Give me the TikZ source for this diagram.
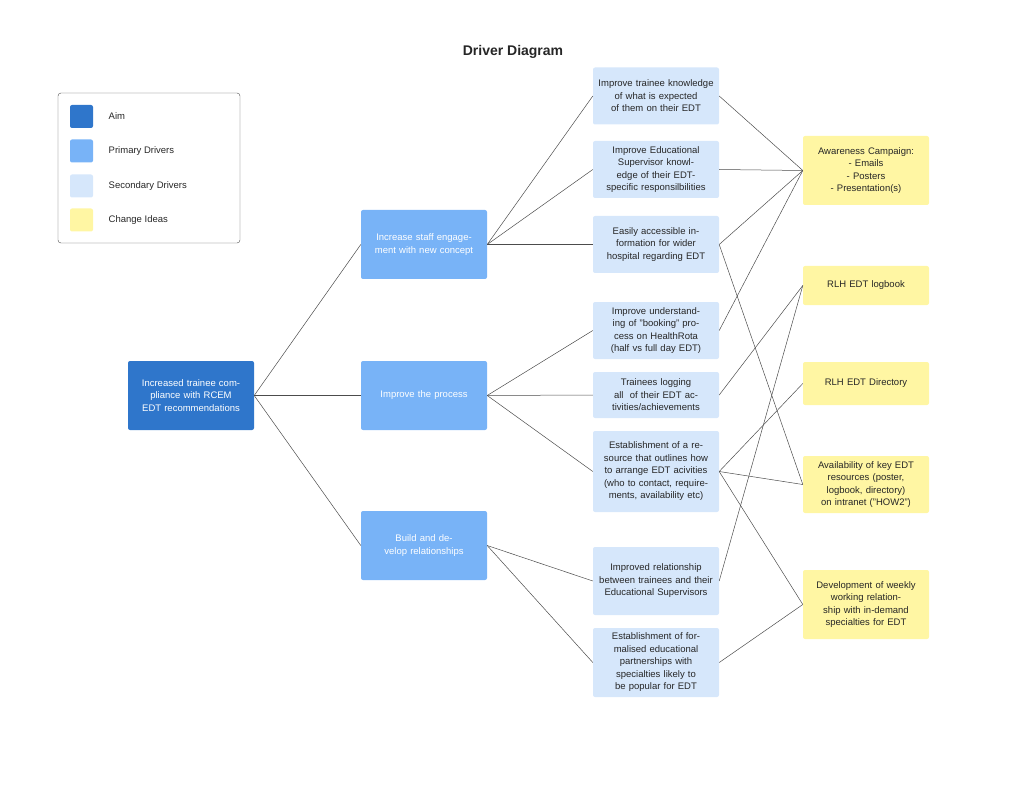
\documentclass[tikz,border=0pt]{standalone}
\usepackage{fontspec}
\setmainfont{Liberation Sans}
\usetikzlibrary{positioning}
\definecolor{aimc}{HTML}{2F76CB}
\definecolor{primc}{HTML}{78B3F7}
\definecolor{secc}{HTML}{D6E7FB}
\definecolor{chgc}{HTML}{FFF6A3}
\tikzset{
  box/.style={rounded corners=2pt, minimum width=126pt, text width=116pt, align=center,
    font=\fontsize{9.5}{12.5}\selectfont, inner sep=1pt},
  aim/.style={box, fill=aimc, text=white},
  prim/.style={box, fill=primc, text=white},
  sec/.style={box, fill=secc, text=black!85},
  chg/.style={box, fill=chgc, text=black!85},
  sw/.style={rounded corners=2pt, minimum size=23pt},
  link/.style={draw=black!70, line width=0.5pt}
}
\begin{document}
\begin{tikzpicture}[x=1pt,y=-1pt]
  \useasboundingbox (0,0) rectangle (1024,791);
  \node[font=\bfseries\fontsize{14}{16}\selectfont, text=black!85] (title) at (513,52) {Driver Diagram};
  % legend
  \draw[black!70, rounded corners=3pt] (58,93) rectangle (240,243);
  \node[sw, fill=aimc] (l1) at (81.5,116.5) {};
  \node[sw, fill=primc] (l2) at (81.5,151) {};
  \node[sw, fill=secc] (l3) at (81.5,186) {};
  \node[sw, fill=chgc] (l4) at (81.5,220) {};
  \foreach \n/\t in {l1/Aim,l2/Primary Drivers,l3/Secondary Drivers,l4/Change Ideas}
    \node[right=12pt of \n, font=\fontsize{9.5}{12}\selectfont, text=black!85] {\t};
  % aim and primary drivers
  \node[aim, minimum height=69pt] (aim) at (191,395.5) {Increased trainee compliance with RCEM EDT recommendations};
  \node[prim, minimum height=69pt] (p1) at (424,244.5) {Increase staff engagement with new concept};
  \node[prim, minimum height=69pt] (p2) at (424,395.5) {Improve the process};
  \node[prim, minimum height=69pt] (p3) at (424,545.5) {Build and develop relationships};
  % secondary drivers
  \node[sec, minimum height=57pt] (s1) at (656,96) {Improve trainee knowledge of what is expected of them on their EDT};
  \node[sec, minimum height=57pt] (s2) at (656,169.5) {Improve Educational Supervisor knowledge of their EDT-specific responsilbilities};
  \node[sec, minimum height=57pt] (s3) at (656,244.5) {Easily accessible information for wider hospital regarding EDT};
  \node[sec, minimum height=57pt] (s4) at (656,330.5) {Improve understanding of "booking" process on HealthRota (half vs full day EDT)};
  \node[sec, minimum height=46pt] (s5) at (656,395) {Trainees logging all~ of their EDT activities/achievements};
  \node[sec, minimum height=81pt] (s6) at (656,471.5) {Establishment of a resource that outlines how to arrange EDT acivities (who to contact, requirements, availability etc)};
  \node[sec, minimum height=68pt] (s7) at (656,581) {Improved relationship between trainees and their Educational Supervisors};
  \node[sec, minimum height=69pt] (s8) at (656,662.5) {Establishment of formalised educational partnerships with specialties likely to be popular for EDT};
  % change ideas
  \node[chg, minimum height=69pt] (c1) at (866,170.5) {Awareness Campaign:\\- Emails\\- Posters\\- Presentation(s)};
  \node[chg, minimum height=39pt] (c2) at (866,285.5) {RLH EDT logbook};
  \node[chg, minimum height=43pt] (c3) at (866,383.5) {RLH EDT Directory};
  \node[chg, minimum height=57pt] (c4) at (866,484.5) {Availability of key EDT resources (poster, logbook, directory) on intranet ("HOW2")};
  \node[chg, minimum height=69pt] (c5) at (866,604.5) {Development of weekly working relationship with in-demand specialties for EDT};
  % links
  \foreach \p in {p1,p2,p3} \draw[link] (aim.east) -- (\p.west);
  \foreach \s in {s1,s2,s3} \draw[link] (p1.east) -- (\s.west);
  \foreach \s in {s4,s5,s6} \draw[link] (p2.east) -- (\s.west);
  \foreach \s in {s7,s8} \draw[link] (p3.east) -- (\s.west);
  \foreach \s/\c in {s1/c1,s2/c1,s3/c1,s4/c1,s3/c4,s5/c2,s7/c2,s6/c3,s6/c4,s6/c5,s8/c5}
    \draw[link] (\s.east) -- (\c.west);
\end{tikzpicture}
\end{document}
